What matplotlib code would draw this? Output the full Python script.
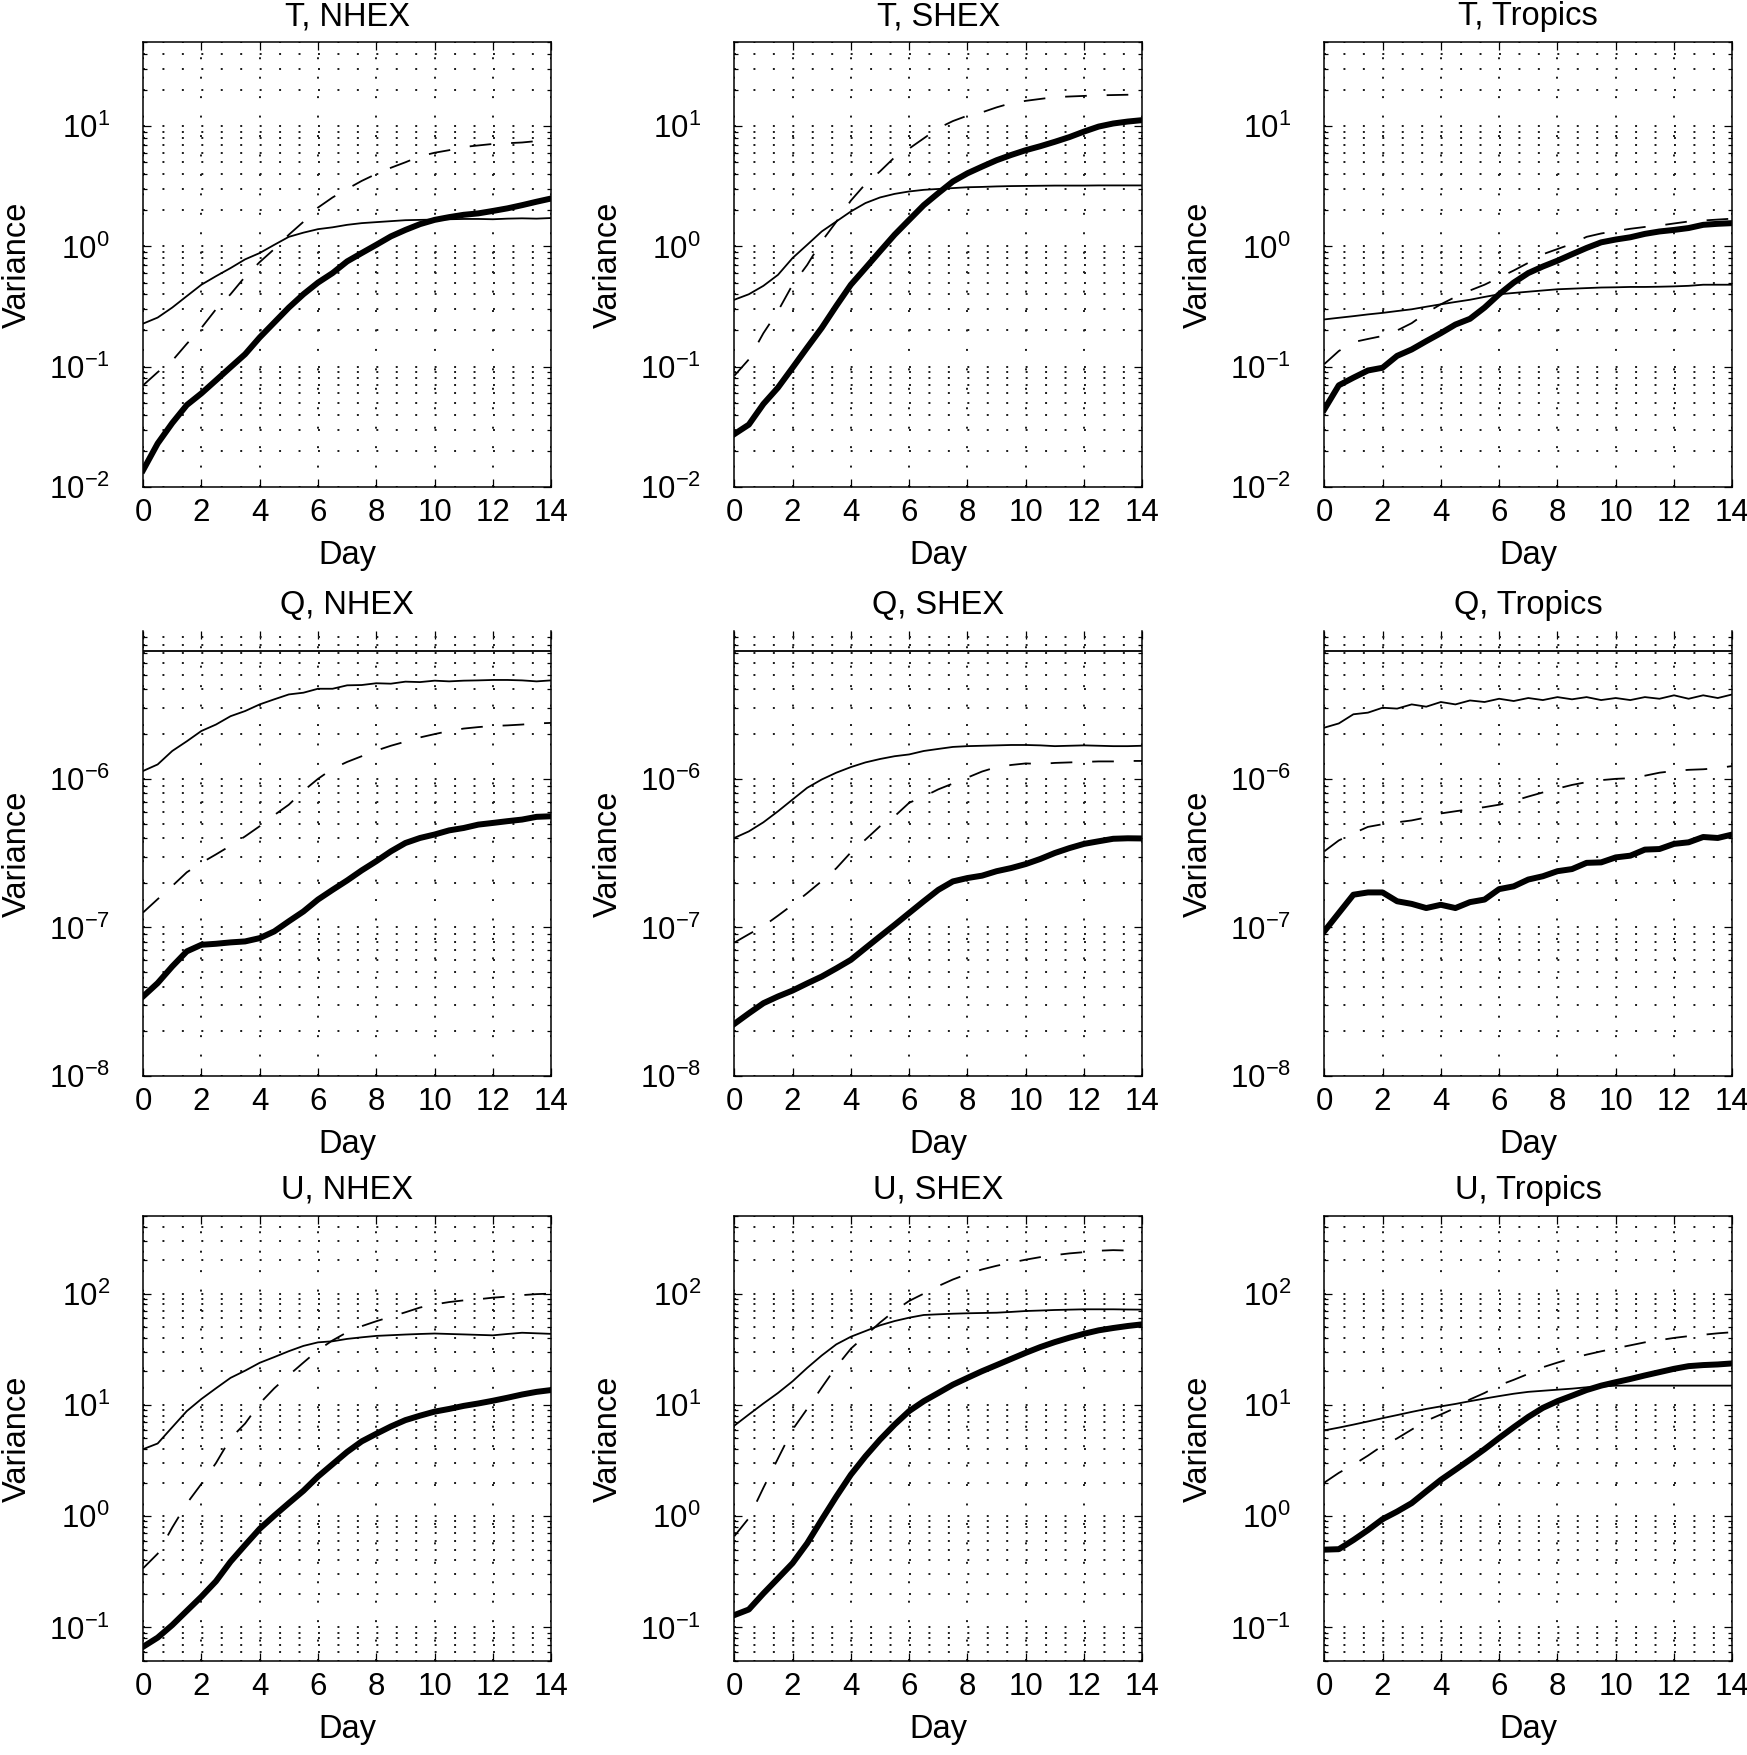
"""Variance growth of T, Q and U over 14 days (3x3 log panels)."""

import matplotlib

matplotlib.use("Agg")

import matplotlib.pyplot as plt
import numpy as np
from matplotlib.ticker import LogLocator, NullFormatter, FixedLocator

# sample days (every half day)
DAYS = np.arange(0, 14.5, 0.5)

# ---- T ----
T_NHEX_BOLD = [0.0138, 0.023, 0.034, 0.048, 0.060, 0.077, 0.099, 0.127, 0.175, 0.233,
               0.31, 0.40, 0.50, 0.60, 0.75, 0.88, 1.03, 1.21, 1.37, 1.53,
               1.66, 1.75, 1.83, 1.88, 1.97, 2.07, 2.2, 2.35, 2.5]
T_NHEX_THIN = [0.228, 0.256, 0.31, 0.386, 0.48, 0.565, 0.66, 0.78, 0.88, 1.03,
               1.2, 1.3, 1.39, 1.44, 1.51, 1.56, 1.59, 1.62, 1.65, 1.66,
               1.67, 1.68, 1.69, 1.69, 1.68, 1.70, 1.71, 1.70, 1.72]
T_NHEX_DASH = [0.07, 0.09, 0.112, 0.155, 0.21, 0.30, 0.40, 0.56, 0.74, 0.95,
               1.25, 1.6, 2.1, 2.55, 3.0, 3.5, 4.0, 4.5, 5.0, 5.6,
               6.0, 6.3, 6.7, 6.9, 7.1, 7.2, 7.3, 7.5, 7.7]

T_SHEX_BOLD = [0.0275, 0.033, 0.049, 0.067, 0.098, 0.144, 0.21, 0.32, 0.48, 0.66,
               0.91, 1.25, 1.66, 2.2, 2.77, 3.46, 4.05, 4.6, 5.2, 5.75,
               6.3, 6.8, 7.4, 8.1, 9.0, 9.9, 10.5, 10.9, 11.2]
T_SHEX_THIN = [0.36, 0.40, 0.47, 0.58, 0.80, 1.03, 1.33, 1.61, 1.95, 2.29,
               2.55, 2.73, 2.86, 2.95, 3.0, 3.05, 3.1, 3.12, 3.15, 3.17,
               3.18, 3.19, 3.2, 3.2, 3.2, 3.21, 3.21, 3.21, 3.21]
T_SHEX_DASH = [0.084, 0.115, 0.19, 0.29, 0.48, 0.70, 1.1, 1.6, 2.4, 3.3,
               4.2, 5.5, 6.5, 7.9, 9.6, 11.0, 12.2, 13.0, 14.3, 15.5,
               16.2, 16.8, 17.4, 17.6, 17.8, 18.0, 18.1, 18.2, 18.2]

T_TROP_BOLD = [0.044, 0.070, 0.081, 0.093, 0.098, 0.123, 0.139, 0.163, 0.19, 0.224,
               0.25, 0.31, 0.40, 0.50, 0.60, 0.68, 0.76, 0.86, 0.97, 1.08,
               1.14, 1.19, 1.27, 1.33, 1.37, 1.42, 1.51, 1.54, 1.56]
T_TROP_THIN = [0.247, 0.255, 0.263, 0.272, 0.28, 0.29, 0.30, 0.315, 0.33, 0.345,
               0.36, 0.38, 0.40, 0.41, 0.42, 0.43, 0.44, 0.445, 0.45, 0.455,
               0.457, 0.46, 0.46, 0.462, 0.465, 0.47, 0.48, 0.48, 0.48]
T_TROP_DASH = [0.105, 0.135, 0.16, 0.17, 0.18, 0.20, 0.23, 0.28, 0.33, 0.38,
               0.43, 0.48, 0.55, 0.63, 0.73, 0.86, 0.95, 1.05, 1.2, 1.28,
               1.34, 1.40, 1.45, 1.49, 1.55, 1.61, 1.64, 1.67, 1.70]

# ---- Q ----
Q_NHEX_BOLD = [3.43e-8, 4.22e-8, 5.46e-8, 6.9e-8, 7.64e-8, 7.76e-8, 7.93e-8, 8.05e-8, 8.47e-8, 9.4e-8,
               1.1e-7, 1.28e-7, 1.54e-7, 1.79e-7, 2.07e-7, 2.42e-7, 2.79e-7, 3.25e-7, 3.7e-7, 4.0e-7,
               4.22e-7, 4.5e-7, 4.67e-7, 4.92e-7, 5.05e-7, 5.19e-7, 5.32e-7, 5.55e-7, 5.6e-7]
Q_NHEX_THIN = [1.13e-6, 1.25e-6, 1.54e-6, 1.79e-6, 2.1e-6, 2.32e-6, 2.64e-6, 2.86e-6, 3.17e-6, 3.43e-6,
               3.7e-6, 3.8e-6, 4.04e-6, 4.04e-6, 4.26e-6, 4.28e-6, 4.4e-6, 4.37e-6, 4.51e-6, 4.48e-6,
               4.58e-6, 4.53e-6, 4.58e-6, 4.6e-6, 4.63e-6, 4.63e-6, 4.6e-6, 4.53e-6, 4.6e-6]
Q_NHEX_DASH = [1.26e-7, 1.55e-7, 1.9e-7, 2.35e-7, 2.72e-7, 3.1e-7, 3.55e-7, 4.1e-7, 4.8e-7, 5.7e-7,
               6.7e-7, 8.3e-7, 1.0e-6, 1.17e-6, 1.3e-6, 1.42e-6, 1.55e-6, 1.67e-6, 1.78e-6, 1.9e-6,
               2.0e-6, 2.1e-6, 2.18e-6, 2.23e-6, 2.27e-6, 2.29e-6, 2.32e-6, 2.36e-6, 2.38e-6]

Q_SHEX_BOLD = [2.24e-8, 2.64e-8, 3.09e-8, 3.43e-8, 3.76e-8, 4.2e-8, 4.67e-8, 5.3e-8, 6.05e-8, 7.26e-8,
               8.7e-8, 1.04e-7, 1.25e-7, 1.5e-7, 1.79e-7, 2.04e-7, 2.15e-7, 2.23e-7, 2.39e-7, 2.51e-7,
               2.67e-7, 2.89e-7, 3.17e-7, 3.42e-7, 3.65e-7, 3.8e-7, 3.95e-7, 3.98e-7, 3.97e-7]
Q_SHEX_THIN = [4.0e-7, 4.43e-7, 5.1e-7, 6.05e-7, 7.26e-7, 8.7e-7, 9.9e-7, 1.1e-6, 1.2e-6, 1.29e-6,
               1.36e-6, 1.42e-6, 1.46e-6, 1.54e-6, 1.59e-6, 1.64e-6, 1.66e-6, 1.67e-6, 1.68e-6, 1.69e-6,
               1.69e-6, 1.68e-6, 1.66e-6, 1.67e-6, 1.68e-6, 1.67e-6, 1.66e-6, 1.66e-6, 1.67e-6]
Q_SHEX_DASH = [7.9e-8, 9e-8, 1.02e-7, 1.2e-7, 1.42e-7, 1.7e-7, 2.05e-7, 2.5e-7, 3.2e-7, 3.9e-7,
               4.8e-7, 5.6e-7, 6.9e-7, 7.6e-7, 8.5e-7, 9.3e-7, 1.02e-6, 1.12e-6, 1.2e-6, 1.24e-6,
               1.27e-6, 1.26e-6, 1.28e-6, 1.29e-6, 1.3e-6, 1.31e-6, 1.31e-6, 1.32e-6, 1.32e-6]

Q_TROP_BOLD = [9.4e-8, 1.25e-7, 1.66e-7, 1.72e-7, 1.72e-7, 1.5e-7, 1.44e-7, 1.35e-7, 1.42e-7, 1.35e-7,
               1.48e-7, 1.54e-7, 1.81e-7, 1.89e-7, 2.1e-7, 2.21e-7, 2.39e-7, 2.47e-7, 2.72e-7, 2.74e-7,
               2.96e-7, 3.04e-7, 3.34e-7, 3.37e-7, 3.65e-7, 3.74e-7, 4.06e-7, 4.0e-7, 4.22e-7]
Q_TROP_THIN = [2.21e-6, 2.36e-6, 2.72e-6, 2.79e-6, 3.01e-6, 2.97e-6, 3.17e-6, 3.06e-6, 3.29e-6, 3.17e-6,
               3.37e-6, 3.29e-6, 3.46e-6, 3.34e-6, 3.5e-6, 3.39e-6, 3.55e-6, 3.43e-6, 3.55e-6, 3.39e-6,
               3.5e-6, 3.39e-6, 3.55e-6, 3.46e-6, 3.65e-6, 3.46e-6, 3.65e-6, 3.5e-6, 3.7e-6]
Q_TROP_DASH = [3.25e-7, 3.85e-7, 4.3e-7, 4.75e-7, 4.95e-7, 5.1e-7, 5.25e-7, 5.5e-7, 5.85e-7, 6.05e-7,
               6.25e-7, 6.45e-7, 6.7e-7, 7.1e-7, 7.6e-7, 8.1e-7, 8.6e-7, 9.1e-7, 9.5e-7, 9.8e-7,
               1.0e-6, 1.01e-6, 1.05e-6, 1.1e-6, 1.13e-6, 1.15e-6, 1.16e-6, 1.18e-6, 1.22e-6]

# ---- U ----
U_NHEX_BOLD = [0.067, 0.081, 0.105, 0.141, 0.189, 0.26, 0.39, 0.55, 0.77, 1.01,
               1.31, 1.69, 2.27, 2.93, 3.78, 4.7, 5.5, 6.4, 7.3, 8.0,
               8.7, 9.2, 9.8, 10.3, 10.9, 11.6, 12.4, 13.1, 13.6]
U_NHEX_THIN = [4.0, 4.5, 6.3, 8.8, 11.3, 14.1, 17.5, 20.3, 23.9, 26.9,
               30.4, 33.9, 36.5, 37.3, 39.2, 40.5, 41.7, 42.3, 42.9, 43.4,
               43.8, 43.4, 43.0, 42.6, 42.2, 43.4, 44.5, 44.0, 43.5]
U_NHEX_DASH = [0.34, 0.46, 0.79, 1.3, 1.95, 3.0, 5.0, 6.8, 10.3, 14.1,
               18.5, 24.0, 31.0, 38.0, 45.0, 51.0, 56.5, 62.0, 68.0, 75.0,
               80.0, 84.0, 87.0, 89.0, 92.0, 94.0, 97.0, 99.0, 100.0]

U_SHEX_BOLD = [0.129, 0.145, 0.202, 0.276, 0.378, 0.57, 0.93, 1.5, 2.36, 3.45,
               4.87, 6.65, 8.8, 10.8, 12.8, 15.2, 17.5, 20.1, 22.8, 25.9,
               29.4, 33.1, 36.7, 40.2, 43.6, 46.8, 49.1, 51.2, 53.0]
U_SHEX_THIN = [6.5, 8.2, 10.3, 12.8, 16.3, 21.5, 27.8, 35.0, 41.0, 46.1,
               51.9, 56.7, 60.8, 64.3, 65.2, 66.0, 66.6, 67.0, 67.4, 68.5,
               69.8, 70.5, 71.3, 71.8, 72.3, 72.3, 72.3, 72.0, 71.8]
U_SHEX_DASH = [0.66, 0.96, 1.8, 3.3, 6.0, 9.2, 14.3, 22.0, 32.0, 42.0,
               55.0, 70.0, 86.0, 100.0, 117.0, 134.0, 150.0, 165.0, 178.0, 190.0,
               202.0, 213.0, 222.0, 230.0, 236.0, 243.0, 246.0, 244.0, 243.0]

U_TROP_BOLD = [0.50, 0.505, 0.61, 0.75, 0.94, 1.1, 1.31, 1.67, 2.12, 2.61,
               3.22, 4.0, 5.04, 6.3, 7.8, 9.4, 10.8, 12.1, 13.6, 14.9,
               16.0, 17.1, 18.4, 19.7, 21.1, 22.3, 22.8, 23.1, 23.6]
U_TROP_THIN = [5.9, 6.25, 6.65, 7.1, 7.6, 8.1, 8.65, 9.2, 9.7, 10.2,
               10.8, 11.4, 12.0, 12.6, 13.1, 13.4, 13.7, 14.0, 14.4, 14.6,
               14.9, 14.9, 14.9, 14.9, 14.9, 14.9, 14.9, 14.9, 14.9]
U_TROP_DASH = [2.0, 2.45, 2.9, 3.5, 4.3, 5.0, 6.0, 7.2, 8.2, 9.4,
               11.2, 12.8, 15.0, 16.8, 19.0, 21.8, 24.0, 26.2, 28.3, 30.3,
               32.3, 34.3, 36.5, 38.2, 40.0, 41.5, 42.7, 44.0, 45.0]

# y ranges per variable, and the flat reference line on the Q panels
T_YLIM = (1e-2, 50)
Q_YLIM = (1e-8, 9.9e-6)
U_YLIM = (0.05, 500)
Q_TOP_LINE = 7.3e-6

ROWS = [
    ("T", T_YLIM, [("NHEX", T_NHEX_BOLD, T_NHEX_THIN, T_NHEX_DASH),
                   ("SHEX", T_SHEX_BOLD, T_SHEX_THIN, T_SHEX_DASH),
                   ("Tropics", T_TROP_BOLD, T_TROP_THIN, T_TROP_DASH)]),
    ("Q", Q_YLIM, [("NHEX", Q_NHEX_BOLD, Q_NHEX_THIN, Q_NHEX_DASH),
                   ("SHEX", Q_SHEX_BOLD, Q_SHEX_THIN, Q_SHEX_DASH),
                   ("Tropics", Q_TROP_BOLD, Q_TROP_THIN, Q_TROP_DASH)]),
    ("U", U_YLIM, [("NHEX", U_NHEX_BOLD, U_NHEX_THIN, U_NHEX_DASH),
                   ("SHEX", U_SHEX_BOLD, U_SHEX_THIN, U_SHEX_DASH),
                   ("Tropics", U_TROP_BOLD, U_TROP_THIN, U_TROP_DASH)]),
]

plt.rcParams["font.family"] = ["Liberation Sans", "DejaVu Sans"]
plt.rcParams["mathtext.fontset"] = "custom"
plt.rcParams["mathtext.rm"] = "Liberation Sans"
plt.rcParams["axes.linewidth"] = 1.1

FS_TICK = 22.5
FS_TEXT = 23.5
COL_LEFT = [0.0819, 0.4203, 0.7580]
ROW_BOTTOM = [0.7225, 0.3869, 0.0536]
AX_W, AX_H = 0.2336, 0.2536
# dotted grid: dot every 14 pt (2/3 day across the panel width)
GRID_STYLE = dict(color="0.1", linewidth=1.4, linestyle=(0, (1, 9)))


def draw_panel(ax, title, ylim, bold, thin, dash, var):
    ax.set_yscale("log")
    ax.set_xlim(0, 14)
    ax.set_ylim(*ylim)
    ax.set_axisbelow(True)

    ax.plot(DAYS, thin, color="black", linewidth=1.3)
    ax.plot(DAYS, dash, color="black", linewidth=1.3, linestyle=(0, (12, 11)))
    ax.plot(DAYS, bold, color="black", linewidth=4.3, solid_joinstyle="round")
    if var == "Q":
        ax.axhline(Q_TOP_LINE, color="black", linewidth=1.3)
        ax.spines["top"].set_visible(False)

    ax.xaxis.set_major_locator(FixedLocator(np.arange(0, 15, 2)))
    ax.yaxis.set_major_locator(LogLocator(base=10, numticks=20))
    ax.yaxis.set_minor_locator(LogLocator(base=10, subs=np.arange(2, 10), numticks=20))
    ax.yaxis.set_minor_formatter(NullFormatter())

    ax.grid(True, which="major", axis="both", **GRID_STYLE)
    ax.grid(True, which="minor", axis="y", **GRID_STYLE)

    ax.tick_params(which="both", direction="in", top=True, right=True, width=0.9)
    ax.tick_params(which="major", length=6)
    ax.tick_params(which="minor", length=3)
    ax.tick_params(axis="x", labelsize=FS_TICK, pad=8)
    ax.tick_params(axis="y", labelsize=FS_TICK, pad=24)

    # baseline of the title about 17 px above the frame
    ax.set_title(title, fontsize=FS_TEXT, y=1.038, pad=0, va="baseline")
    ax.set_xlabel("Day", fontsize=FS_TEXT)
    ax.set_ylabel("Variance", fontsize=FS_TEXT)
    ax.xaxis.set_label_coords(0.5, -0.12)
    ax.yaxis.set_label_coords(-0.27, 0.5)


fig = plt.figure(figsize=(17.47, 17.55), dpi=100)
for r, (var, ylim, panels) in enumerate(ROWS):
    for c, (region, bold, thin, dash) in enumerate(panels):
        ax = fig.add_axes([COL_LEFT[c], ROW_BOTTOM[r], AX_W, AX_H])
        draw_panel(ax, f"{var}, {region}", ylim, bold, thin, dash, var)

fig.savefig("out.png", dpi=100)
